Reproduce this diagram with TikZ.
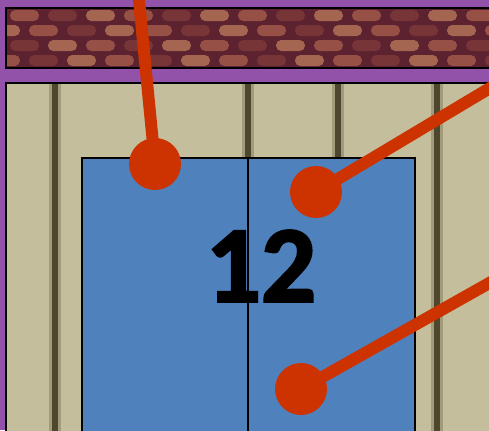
\documentclass[tikz,border=0pt]{standalone}
\usepackage{fontspec}
\newfontfamily\doorfont{Carlito Bold}[FakeBold=2.2]
\usetikzlibrary{calc}
\definecolor{wallpurple}{RGB}{146,82,170}
\definecolor{doorblue}{RGB}{79,129,189}
\definecolor{pinred}{RGB}{204,51,0}
\definecolor{fencetan}{RGB}{196,190,156}
\definecolor{groove}{RGB}{58,50,26}
\definecolor{mortar}{RGB}{92,34,48}
\definecolor{brickc0}{RGB}{190,112,84}
\definecolor{brickc1}{RGB}{140,66,60}
\definecolor{brickc2}{RGB}{212,148,104}

\tikzset{
  pindot/.style={circle, fill=pinred, minimum size=1.04cm, inner sep=0pt},
  lead/.style={pinred, line width=0.24cm},
  panel/.style={draw=black, line width=0.8pt},
}

\begin{document}
\begin{tikzpicture}[x=0.02cm, y=-0.02cm]
    \clip (0,0) rectangle (489,430);
    \fill[wallpurple] (0,0) rectangle (489,430);
    % Brick strip
    \fill[mortar] (6,8) rectangle (495,68);
    \begin{scope}
      \clip (6,8) rectangle (495,68);
      \foreach \r in {0,...,3} {
        \foreach \c in {0,...,13} {
          \pgfmathtruncatemacro\k{mod(\r*5+\c*7,3)}
          \pgfmathsetmacro\xo{6+\c*38-mod(\r,2)*19}
          \fill[brickc\k, opacity=0.6, rounded corners=3pt]
            (\xo+4,{10+\r*15}) rectangle (\xo+33,{21+\r*15});
        }
      }
    \end{scope}
    \draw[panel] (6,8) rectangle (495,68);
    % Fence
    \fill[fencetan] (6,83) rectangle (495,440);
    \foreach \gx in {55,248,338,437} {
      \draw[groove, line width=7pt, opacity=0.25] (\gx,83) -- (\gx,440);
      \draw[groove, line width=3pt, opacity=0.8] (\gx,83) -- (\gx,440);
    }
    \draw[groove, line width=2pt, opacity=0.15] (150,83) -- (150,440);
    \draw[panel] (6,83) rectangle (495,440);
    % Doors
    \draw[panel, fill=doorblue] (82,158) rectangle (415,440);
    \draw[line width=0.8pt] (248,158) -- (248,440);
    \node (num) at (261,266) {\doorfont\fontsize{62}{62}\selectfont 12};
    % Pins
    \node[pindot] (top) at (155,164) {};
    \node[pindot] (upper) at (316,192) {};
    \node[pindot] (lower) at (301,389) {};
    \coordinate (topEnd) at (138,-10);
    \coordinate (upperEnd) at (500,82);
    \coordinate (lowerEnd) at (500,277);
    \draw[lead] (top.center) -- (topEnd);
    \draw[lead] (upper.center) -- (upperEnd);
    \draw[lead] (lower.center) -- (lowerEnd);
\end{tikzpicture}
\end{document}
